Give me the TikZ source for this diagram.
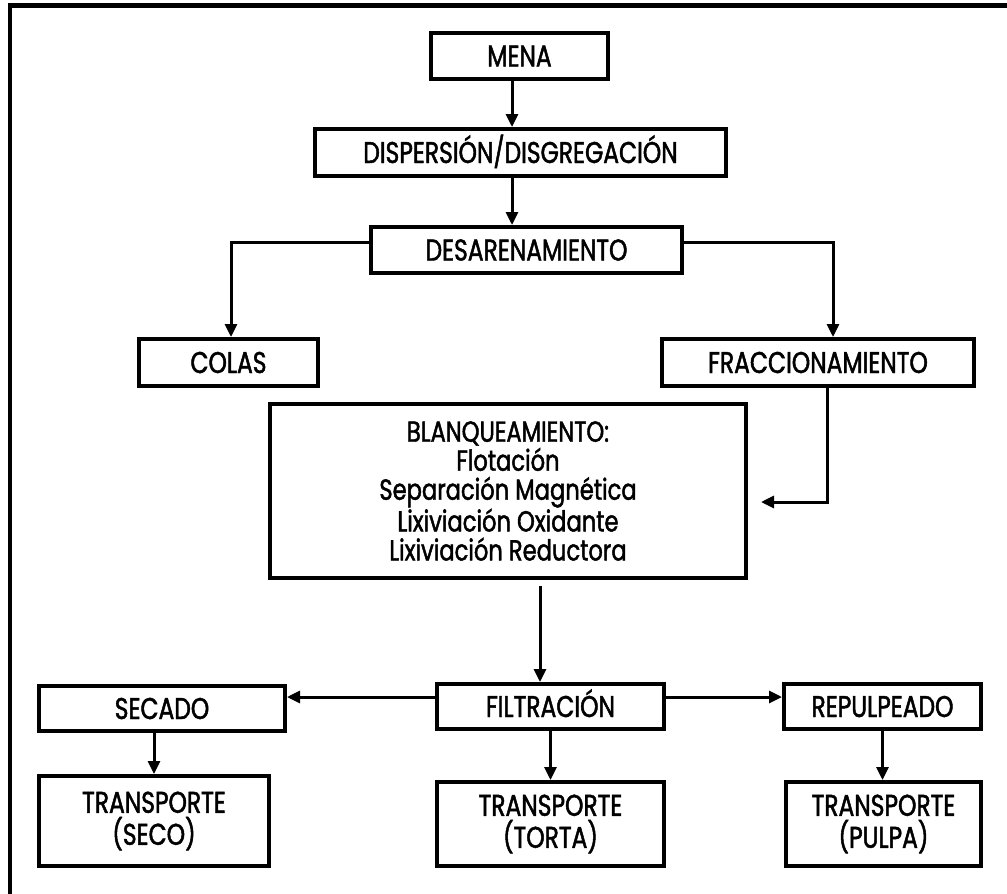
\documentclass[tikz,border=0pt]{standalone}
\usepackage{fontspec}
\setmainfont{Poppins}[FakeStretch=0.78,FakeBold=1.6]
\usetikzlibrary{arrows.meta}
\begin{document}
\begin{tikzpicture}[x=1pt,y=-1pt,
  bx/.style={draw,line width=4pt,inner sep=0pt,align=center,
    font=\fontsize{30}{32}\selectfont},
  lbl/.style={text height=21pt,text depth=0pt},
  arr/.style={line width=3pt,-{Triangle[length=13pt,width=12pt]}}]
\useasboundingbox (0,0) rectangle (1007,894);
% page frame (top and left edges)
\draw[line width=4.5pt] (10,894) -- (10,5.5) -- (1007,5.5);

% process boxes
\node[bx,lbl,minimum width=177pt,minimum height=46pt] (mena) at (519.5,56) {MENA};
\node[bx,lbl,minimum width=411pt,minimum height=47pt] (disp) at (520.5,152.5) {DISPERSIÓN/DISGREGACIÓN};
\node[bx,lbl,minimum width=311pt,minimum height=46pt] (desar) at (526.5,250) {DESARENAMIENTO};
\node[bx,lbl,minimum width=179pt,minimum height=47pt] (colas) at (228.5,362.5) {COLAS};
\node[bx,lbl,minimum width=312pt,minimum height=47pt] (frac) at (818,362.5) {FRACCIONAMIENTO};
\node[bx,minimum width=476pt,minimum height=174pt,
  font=\fontsize{29}{29}\selectfont] (blanq) at (508,491)
  {BLANQUEAMIENTO:\\Flotación\\Separación Magnética\\Lixiviación Oxidante\\Lixiviación Reductora};
\node[bx,lbl,minimum width=227pt,minimum height=45pt] (filt) at (550.5,706.5) {FILTRACIÓN};
\node[bx,lbl,minimum width=246pt,minimum height=45pt] (secado) at (162,708.5) {SECADO};
\node[bx,lbl,minimum width=197pt,minimum height=45pt] (repul) at (882.5,706.5) {REPULPEADO};
\node[bx,minimum width=230pt,minimum height=90pt] (ts) at (154,821) {TRANSPORTE\\(SECO)};
\node[bx,minimum width=227pt,minimum height=84pt] (tt) at (550.5,824) {TRANSPORTE\\(TORTA)};
\node[bx,minimum width=195pt,minimum height=84pt] (tp) at (883.5,824) {TRANSPORTE\\(PULPA)};

% connectors
\draw[arr] ([xshift=-7.5pt]mena.south) -- ([xshift=-8.5pt]disp.north);
\draw[arr] ([xshift=-8.5pt]disp.south) -- ([xshift=-14.5pt]desar.north);
\draw[arr] ([yshift=8pt]desar.west) -| ([xshift=2.5pt]colas.north);
\draw[arr] ([yshift=8pt]desar.east) -| ([xshift=15pt]frac.north);
\draw[arr] ([xshift=9pt]frac.south) |- ([xshift=13pt,yshift=-11pt]blanq.east);
\draw[arr] ([xshift=32pt,yshift=-6pt]blanq.south) -- ([xshift=-10.5pt]filt.north);
\draw[arr] ([yshift=9.5pt]filt.west) -- ([yshift=9.5pt]filt.west -| secado.east);
\draw[arr] ([yshift=9.5pt]filt.east) -- ([yshift=9.5pt]filt.east -| repul.west);
\draw[arr] (secado.south -| ts.north) -- (ts.north);
\draw[arr] (filt.south) -- (tt.north);
\draw[arr] ([yshift=4pt]repul.south) -- (repul.south |- tp.north);
\end{tikzpicture}
\end{document}
